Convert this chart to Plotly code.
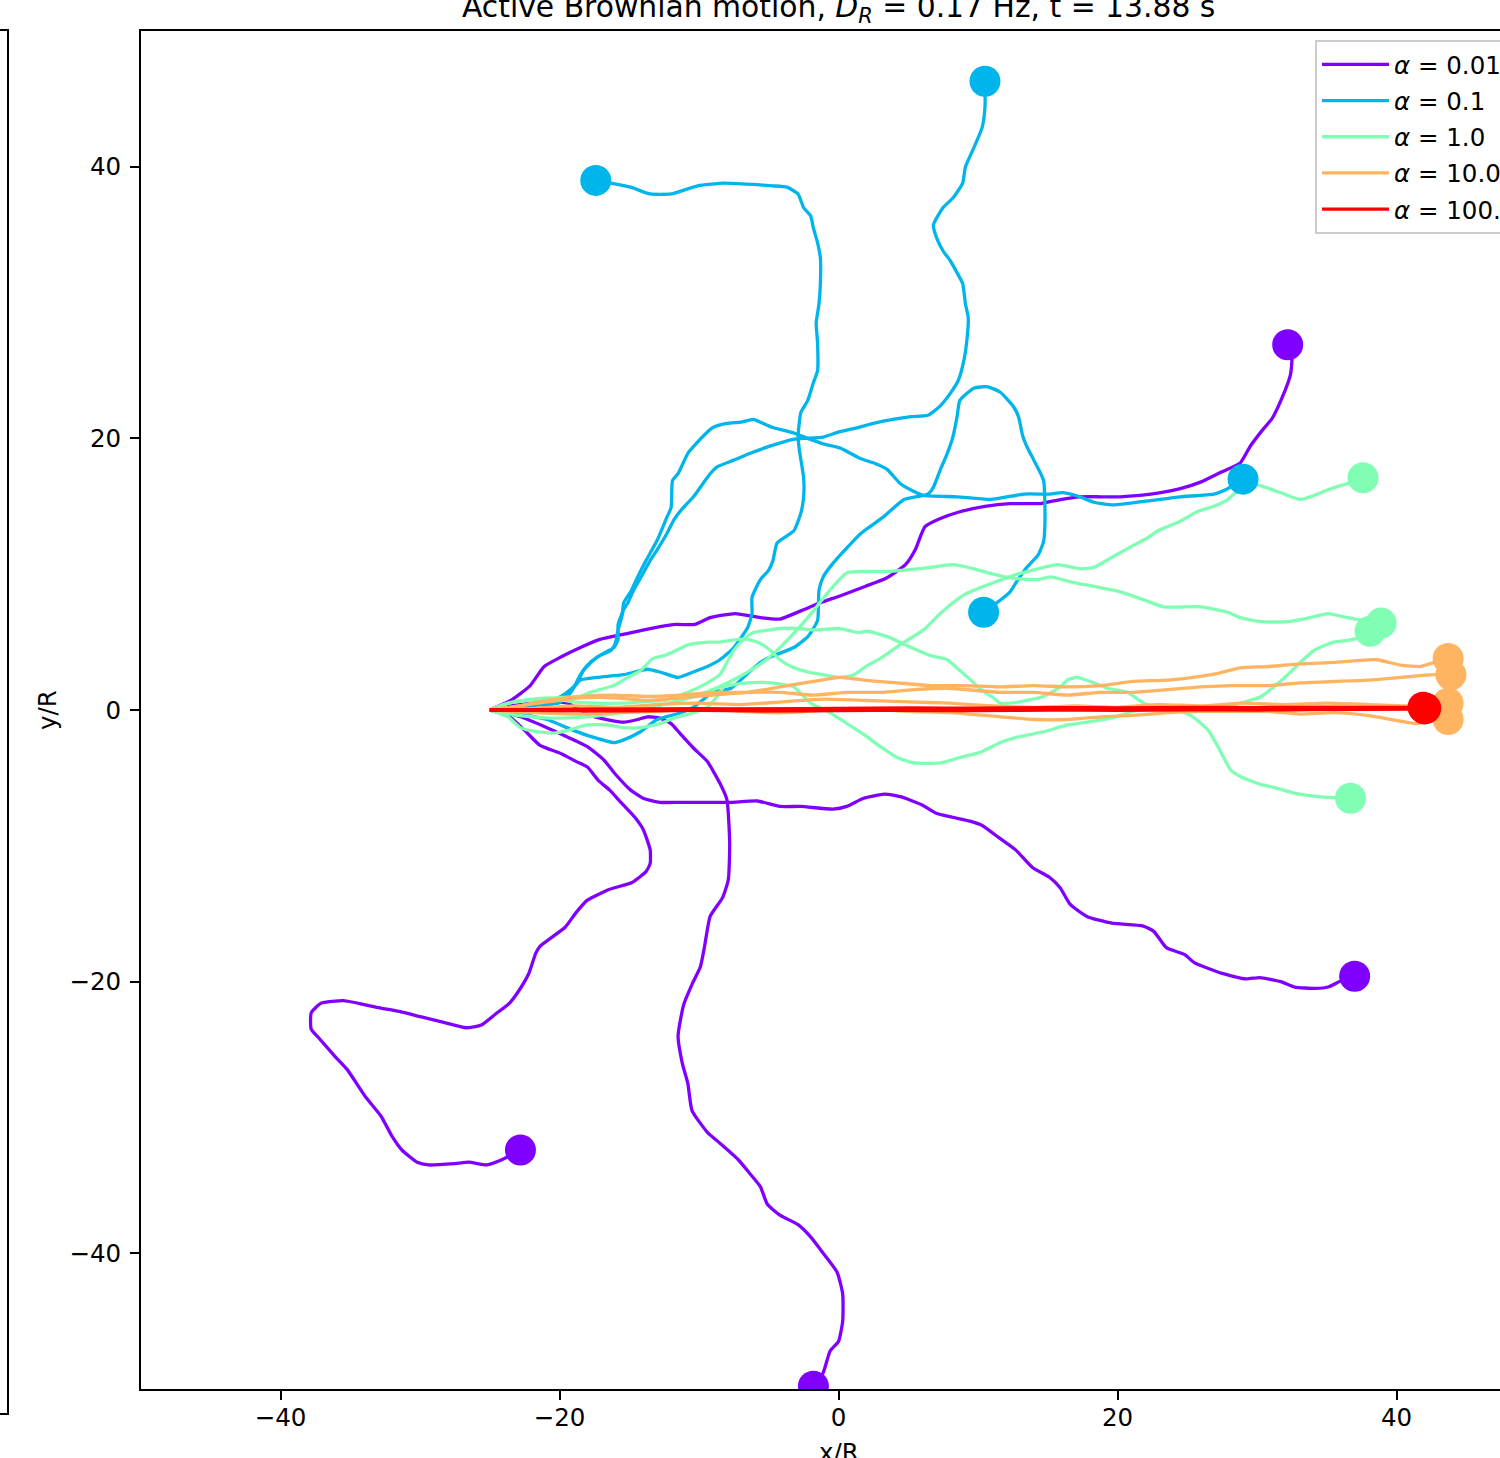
import plotly.graph_objects as go

# ---------------- data (x/R, y/R) ----------------
# alpha = 0.01
x_a001_1 = [-25.0,-23.5,-22.1,-21.1,-19.9,-18.5,-17.1,-15.3,-13.5,-11.7,-10.3,-9.2,-7.4,-5.6,-4.2,-2.7,-1.3,0.1,1.9,3.4,4.8,5.5,6.2,7.3,8.7,10.5,12.3,14.5,15.9,17.3,18.8,20.2,21.6,23.1,24.5,26.0,27.4,28.8,29.5,30.3,31.1,31.8,32.4,32.5,32.2]
y_a001_1 = [0.0,0.7,1.8,3.2,3.9,4.6,5.2,5.6,6.0,6.3,6.3,6.8,7.1,6.8,6.7,7.3,7.9,8.4,9.1,9.7,10.7,11.8,13.5,14.1,14.6,15.0,15.2,15.2,15.5,15.7,15.7,15.7,15.8,16.0,16.3,16.8,17.5,18.2,19.4,20.5,21.5,23.0,24.7,25.9,26.9]
x_a001_2 = [-25.0,-23.9,-22.8,-20.9,-19.4,-18.0,-16.8,-16.1,-14.9,-14.0,-12.8,-11.3,-9.0,-7.7,-5.8,-4.2,-2.7,-0.4,0.6,1.8,3.3,4.5,6.0,7.0,9.5,10.3,11.5,12.7,13.9,15.1,15.9,16.6,17.8,19.6,21.8,22.6,23.5,24.8,25.5,27.5,29.2,30.2,31.7,32.7,34.2,35.1,36.1,37.0]
y_a001_2 = [0.0,-0.2,-0.5,-1.3,-2.0,-2.7,-3.7,-4.6,-5.9,-6.5,-6.8,-6.8,-6.8,-6.8,-6.7,-7.1,-7.1,-7.3,-7.1,-6.5,-6.2,-6.4,-7.0,-7.6,-8.2,-8.5,-9.4,-10.3,-11.6,-12.3,-13.1,-14.3,-15.2,-15.7,-15.9,-16.3,-17.5,-18.0,-18.6,-19.4,-19.8,-19.7,-20.0,-20.4,-20.5,-20.4,-19.9,-19.6]
x_a001_3 = [-25.0,-23.5,-22.1,-20.9,-19.4,-17.8,-16.6,-15.4,-14.4,-13.7,-12.8,-12.0,-11.3,-10.4,-9.4,-8.5,-8.0,-7.8,-7.9,-8.3,-9.2,-9.6,-9.9,-10.5,-11.1,-11.5,-11.2,-10.8,-10.5,-9.4,-8.5,-7.2,-6.3,-5.6,-5.1,-4.2,-2.9,-2.0,-1.1,-0.1,0.3,0.3,0.0,-0.6,-1.1,-1.8]
y_a001_3 = [0.0,0.3,0.5,0.6,0.5,-0.4,-0.7,-0.9,-0.7,-0.5,-0.6,-1.0,-1.8,-2.8,-3.8,-5.4,-6.6,-9.8,-12.5,-13.8,-15.2,-17.4,-18.9,-20.2,-21.7,-24.0,-26.0,-27.5,-29.5,-31.1,-31.9,-33.1,-34.2,-35.1,-36.4,-37.2,-37.9,-38.8,-40.0,-41.4,-43.0,-45.0,-46.5,-47.2,-48.8,-49.8]
x_a001_4 = [-25.0,-23.6,-22.5,-21.4,-19.9,-18.8,-18.0,-17.2,-16.4,-15.6,-14.6,-14.0,-13.5,-13.5,-13.8,-14.8,-16.4,-18.0,-18.8,-19.6,-21.4,-21.7,-22.2,-23.0,-23.6,-24.6,-25.6,-26.7,-28.3,-29.9,-31.5,-33.1,-34.4,-35.5,-37.1,-37.8,-37.8,-37.3,-36.1,-35.2,-33.9,-32.8,-32.0,-31.3,-30.2,-29.4,-27.5,-26.5,-25.2,-24.1,-22.8]
y_a001_4 = [0.0,-0.5,-1.5,-2.6,-3.2,-3.8,-4.2,-5.2,-5.9,-6.8,-7.9,-8.8,-10.3,-11.3,-11.9,-12.7,-13.2,-14.0,-14.9,-16.0,-17.4,-17.9,-19.4,-20.8,-21.6,-22.4,-23.2,-23.4,-23.0,-22.6,-22.2,-21.9,-21.6,-21.4,-21.6,-22.3,-23.5,-24.1,-25.5,-26.5,-28.5,-29.9,-31.4,-32.4,-33.3,-33.5,-33.4,-33.3,-33.5,-33.1,-32.4]

# alpha = 0.1
x_a01_1 = [-25.0,-23.3,-20.9,-19.9,-19.2,-18.5,-17.3,-15.4,-13.7,-12.8,-11.5,-10.4,-9.4,-8.5,-7.5,-6.5,-6.2,-6.2,-5.6,-5.0,-4.7,-4.4,-3.2,-2.7,-2.5,-2.5,-2.8,-2.9,-2.7,-2.2,-1.8,-1.5,-1.5,-1.6,-1.4,-1.3,-1.3,-1.5,-1.8,-2.0,-2.5,-2.9,-3.7,-4.7,-6.1,-8.2,-10.1,-12.0,-13.5,-14.9,-16.3,-17.4]
y_a01_1 = [0.0,0.2,0.5,1.0,1.5,2.2,2.4,2.6,3.0,2.8,2.4,2.8,3.2,3.7,4.6,6.1,7.1,8.3,9.6,10.3,11.0,12.3,13.2,14.5,15.7,17.1,19.1,20.1,21.9,22.8,24.1,25.0,27.0,28.5,29.9,31.4,33.3,34.4,35.5,36.4,37.0,38.0,38.5,38.6,38.7,38.8,38.6,38.0,38.0,38.5,38.8,39.0]
x_a01_2 = [-25.0,-23.5,-21.4,-20.1,-19.4,-19.0,-18.5,-17.8,-16.8,-16.1,-15.8,-15.8,-15.4,-15.1,-14.7,-14.2,-13.5,-13.0,-12.3,-11.8,-11.3,-10.4,-9.7,-9.2,-8.7,-7.5,-6.1,-4.7,-3.4,-2.5,-1.1,0.1,1.4,2.5,3.9,5.2,6.4,7.2,8.0,8.6,9.0,9.2,9.3,9.1,8.9,8.5,8.0,7.5,7.1,6.8,7.5,8.2,8.9,9.1,9.7,10.3,10.5,10.5]
y_a01_2 = [0.0,0.1,0.4,0.5,1.0,1.6,2.6,3.5,4.2,4.6,5.2,6.3,7.4,7.9,8.8,9.7,11.0,11.8,13.0,14.0,14.7,15.7,16.7,17.4,17.9,18.4,19.0,19.5,19.9,20.0,20.1,20.5,20.8,21.1,21.4,21.6,21.7,22.3,23.3,24.3,25.8,27.2,28.9,29.9,31.4,32.2,33.1,33.8,34.6,35.7,37.0,37.7,38.8,40.0,41.4,42.9,44.4,46.3]
x_a01_3 = [-25.0,-22.8,-21.0,-20.1,-19.4,-18.7,-18.3,-17.3,-16.3,-16.0,-15.8,-15.5,-15.4,-14.9,-14.4,-13.8,-13.0,-12.3,-12.0,-11.9,-11.5,-10.8,-10.4,-9.0,-8.0,-7.0,-6.1,-5.6,-4.7,-3.2,-2.2,-1.1,0.1,1.6,2.5,3.5,4.4,5.2,6.1,8.5,10.9,13.3,15.0,16.1,17.3,18.3,19.7,22.2,24.5,26.9,27.9,29.0]
y_a01_3 = [0.0,0.0,0.2,0.7,1.3,2.0,2.9,3.9,4.4,4.9,5.9,7.0,7.9,8.7,9.8,11.0,12.5,14.2,14.9,16.9,17.4,18.9,19.4,20.8,21.1,21.2,21.4,21.2,20.8,20.4,20.0,19.6,19.3,18.5,18.2,17.7,16.7,16.2,15.8,15.7,15.5,15.9,15.9,16.0,15.7,15.3,15.1,15.4,15.7,15.9,16.3,17.0]
x_a01_4 = [-25.0,-23.3,-20.9,-19.0,-17.6,-16.1,-15.4,-14.2,-13.0,-11.3,-10.4,-9.0,-7.7,-6.5,-5.6,-4.9,-3.2,-2.2,-1.5,-1.4,-1.1,-0.4,1.6,3.2,4.7,6.4,6.8,7.3,7.8,8.2,8.5,8.7,9.7,10.7,11.6,12.5,12.9,13.2,13.5,14.0,14.7,14.8,14.7,14.3,13.5,12.8,12.3,11.1,10.4]
y_a01_4 = [0.0,-0.2,-0.7,-1.5,-2.0,-2.4,-2.2,-1.6,-0.7,-0.2,0.2,1.3,1.6,2.7,3.5,3.9,4.6,5.4,6.6,8.8,9.8,10.8,13.0,14.2,15.5,15.9,16.4,17.7,18.9,20.1,21.6,22.8,23.7,23.8,23.4,22.4,21.6,20.2,19.4,18.4,16.9,13.9,12.4,11.4,10.5,9.5,8.7,7.7,7.2]

# alpha = 1.0
x_a1_1 = [-25.0,-23.7,-22.1,-20.4,-18.5,-17.8,-17.1,-16.1,-15.1,-14.2,-13.3,-12.5,-11.8,-10.8,-9.4,-8.5,-7.2,-6.5,-5.6,-4.9,-4.2,-3.4,-2.2,-1.1,0.1,1.1,2.1,3.0,4.4,6.1,7.3,8.2,9.2,10.9,12.5,14.3,15.7,17.3,18.3,19.7,21.1,22.2,22.9,24.5,25.7,26.9,27.9,28.8,29.5,30.0,31.7,33.1,34.1,35.3,36.9,37.6]
y_a1_1 = [0.0,0.5,0.7,0.9,1.0,1.3,1.5,1.8,2.4,2.9,3.8,4.0,4.3,4.8,5.0,5.0,5.2,5.2,4.9,4.4,3.7,3.2,2.8,2.6,2.4,2.6,3.3,3.8,4.8,5.9,7.1,7.9,8.6,9.3,9.9,10.4,10.7,10.4,10.5,11.3,12.1,12.7,13.2,13.9,14.6,15.0,15.5,16.3,16.6,16.6,16.0,15.5,15.8,16.3,16.8,17.1]
x_a1_2 = [-25.0,-23.0,-20.5,-18.0,-15.5,-13.0,-11.0,-9.0,-7.0,-5.3,-4.0,-2.8,-1.8,-0.8,0.6,2.1,3.5,4.7,6.6,8.2,9.7,11.1,12.5,14.3,15.2,16.8,18.3,20.2,21.9,23.3,26.0,27.9,28.8,30.3,32.2,33.8,35.1,36.5,37.6,38.9]
y_a1_2 = [0.0,-0.4,-0.6,-0.5,-0.2,0.3,0.8,1.5,2.5,3.6,4.8,6.1,7.3,8.6,10.1,10.2,10.2,10.3,10.5,10.7,10.4,10.0,9.7,9.6,9.8,9.4,9.1,8.7,8.1,7.6,7.6,7.2,6.8,6.5,6.5,6.8,7.1,6.8,6.6,6.4]
x_a1_3 = [-25.0,-23.7,-22.8,-21.6,-20.4,-19.4,-18.0,-16.6,-15.4,-14.2,-12.8,-11.8,-10.4,-9.4,-8.7,-8.2,-6.5,-4.9,-3.2,-2.0,-0.6,0.6,1.8,3.0,4.2,5.4,7.3,8.7,10.2,11.6,12.8,14.7,16.4,17.8,19.5,21.1,22.2,23.6,25.0,27.2,28.8,30.3,31.2,32.2,33.1,34.1,35.5,36.9,38.1]
y_a1_3 = [0.0,-0.5,-1.3,-1.6,-1.7,-1.5,-1.1,-1.1,-1.3,-1.3,-1.0,-0.6,-0.2,0.2,1.0,1.7,2.0,2.0,1.7,0.5,-0.2,-1.0,-1.8,-2.7,-3.5,-3.9,-3.9,-3.5,-3.1,-2.4,-2.0,-1.6,-1.1,-0.9,-0.6,-0.1,0.1,0.2,0.2,0.2,0.5,1.0,1.7,2.6,3.5,4.4,5.0,5.2,5.8]
x_a1_4 = [-25.0,-23.3,-20.9,-19.0,-17.3,-15.6,-14.2,-12.5,-10.8,-9.4,-8.5,-8.0,-7.5,-6.8,-6.1,-4.9,-4.2,-2.9,-1.8,0.1,1.4,2.1,3.5,5.2,6.6,7.8,8.7,9.5,10.2,11.1,11.6,13.0,14.7,15.9,16.4,17.1,18.3,19.3,20.7,21.9,22.9,24.3,25.4,26.5,27.2,28.1,28.8,30.3,31.2,32.6,34.6,36.7]
y_a1_4 = [0.0,0.6,0.9,0.6,0.5,0.5,0.6,0.7,1.3,2.0,2.6,3.5,4.4,5.2,5.7,5.9,6.0,6.0,5.9,6.0,5.7,5.8,5.4,4.6,4.0,3.7,2.9,2.2,1.5,0.9,0.5,0.6,1.0,1.7,2.2,2.4,2.0,1.6,1.3,0.5,0.2,0.0,-0.5,-1.5,-2.7,-4.4,-4.9,-5.5,-5.7,-6.1,-6.4,-6.5]

# alpha = 10.0
x_a10_1 = [-25.0,-23.3,-20.9,-18.5,-16.1,-13.7,-11.3,-9.0,-6.5,-4.2,-1.8,0.1,1.8,4.2,6.6,9.0,11.6,14.0,16.4,18.8,21.1,23.6,25.4,27.2,28.8,30.8,33.1,35.5,38.6,40.3,41.7,42.7,43.7]
y_a10_1 = [0.0,0.2,0.7,1.0,1.1,1.0,1.1,1.3,1.3,1.7,2.1,2.4,2.2,2.0,1.8,1.8,1.7,1.8,1.7,1.8,2.1,2.2,2.4,2.7,3.1,3.2,3.4,3.5,3.7,3.3,3.2,3.5,3.8]
x_a10_2 = [-25.0,-20.9,-18.5,-16.1,-13.7,-11.3,-9.0,-6.5,-4.2,-1.8,0.6,3.0,5.4,7.8,11.6,14.0,16.4,18.8,21.1,23.6,26.0,28.3,30.8,33.1,35.5,37.9,40.3,42.7,43.9]
y_a10_2 = [0.0,0.6,0.9,0.9,0.7,0.9,1.1,1.3,1.3,1.1,1.3,1.3,1.5,1.6,1.3,1.3,1.1,1.3,1.3,1.5,1.7,1.8,1.8,2.0,2.1,2.2,2.4,2.6,2.6]
x_a10_3 = [-25.0,-22.0,-19.0,-16.0,-13.0,-10.0,-7.0,-4.0,-1.0,2.0,5.0,8.0,11.0,14.0,17.0,20.0,23.0,26.0,29.0,32.0,35.0,38.0,41.0,43.7]
y_a10_3 = [0.0,0.1,0.3,0.2,0.4,0.5,0.4,0.6,0.8,0.7,0.6,0.5,0.3,0.2,0.3,0.2,0.4,0.3,0.5,0.4,0.5,0.4,0.3,0.5]
x_a10_4 = [-25.0,-22.0,-19.0,-16.0,-13.0,-10.0,-7.0,-4.0,-1.0,2.0,5.0,8.0,11.6,14.0,16.4,18.8,21.1,23.6,26.0,28.3,30.8,33.1,35.5,37.9,39.1,41.5,42.7,43.7]
y_a10_4 = [0.0,-0.2,-0.3,-0.2,-0.1,0.1,-0.1,-0.2,0.0,0.1,-0.1,-0.2,-0.5,-0.7,-0.7,-0.5,-0.4,-0.2,-0.1,-0.1,-0.1,-0.3,-0.2,-0.4,-0.6,-1.0,-0.7,-0.7]

# alpha = 100.0
x_a100_1 = [-25.0,-20.0,-15.0,-10.0,-5.0,0.0,5.0,10.0,15.0,20.0,25.0,30.0,35.0,40.0,42.0]
y_a100_1 = [0.0,0.02,0.05,0.03,0.06,0.08,0.05,0.1,0.12,0.1,0.13,0.15,0.12,0.14,0.15]
x_a100_2 = [-25.0,-20.0,-15.0,-10.0,-5.0,0.0,5.0,10.0,15.0,20.0,25.0,30.0,35.0,40.0,42.1]
y_a100_2 = [0.0,-0.03,-0.02,0.0,-0.04,0.0,0.03,0.01,0.05,0.06,0.04,0.08,0.1,0.09,0.12]
x_a100_3 = [-25.0,-20.0,-15.0,-10.0,-5.0,0.0,5.0,10.0,15.0,20.0,25.0,30.0,35.0,40.0,41.9]
y_a100_3 = [0.0,0.04,0.07,0.1,0.08,0.12,0.15,0.13,0.18,0.16,0.2,0.18,0.21,0.19,0.2]
x_a100_4 = [-25.0,-20.0,-15.0,-10.0,-5.0,0.0,5.0,10.0,15.0,20.0,25.0,30.0,35.0,40.0,42.0]
y_a100_4 = [0.0,-0.05,-0.06,-0.03,-0.07,-0.04,-0.02,-0.05,0.0,-0.02,0.02,0.0,0.04,0.06,0.08]

alpha_labels = ["0.01", "0.1", "1.0", "10.0", "100.0"]
colors = ["#8000ff", "#00b5eb", "#80ffb4", "#ffb462", "#ff0000"]
tick_vals = [-40, -20, 0, 20, 40]

groups = [
    [(x_a001_1, y_a001_1), (x_a001_2, y_a001_2), (x_a001_3, y_a001_3), (x_a001_4, y_a001_4)],
    [(x_a01_1, y_a01_1), (x_a01_2, y_a01_2), (x_a01_3, y_a01_3), (x_a01_4, y_a01_4)],
    [(x_a1_1, y_a1_1), (x_a1_2, y_a1_2), (x_a1_3, y_a1_3), (x_a1_4, y_a1_4)],
    [(x_a10_1, y_a10_1), (x_a10_2, y_a10_2), (x_a10_3, y_a10_3), (x_a10_4, y_a10_4)],
    [(x_a100_1, y_a100_1), (x_a100_2, y_a100_2), (x_a100_3, y_a100_3), (x_a100_4, y_a100_4)],
]

FONT = "DejaVu Sans"
W, H = 1500, 1458
L, T = 141, 31          # plot-area left / top in px
PB = 1389               # plot-area bottom in px
PW, PH = W - L, PB - T

fig = go.Figure()

# trajectories (one trace per alpha, trajectories separated by gaps)
for lab, col, trajs in zip(alpha_labels, colors, groups):
    xs, ys = [], []
    for tx, ty in trajs:
        xs += list(tx) + [None]
        ys += list(ty) + [None]
    fig.add_trace(go.Scatter(
        x=xs, y=ys, mode="lines", connectgaps=False,
        line=dict(color=col, width=3.3, shape="spline", smoothing=0.5),
        name=f"<i>α</i> = {lab}",
        legendgroup=lab, showlegend=True, hoverinfo="skip"))

# end-point markers
for lab, col, trajs in zip(alpha_labels, colors, groups):
    fig.add_trace(go.Scatter(
        x=[tx[-1] for tx, ty in trajs], y=[ty[-1] for tx, ty in trajs],
        mode="markers", marker=dict(color=col, size=31, line=dict(width=0)),
        showlegend=False, legendgroup=lab, hoverinfo="skip"))

def px_x(p):
    return (p - L) / PW

def px_y(p):
    return (PB - p) / PH

xmax = -50 + (W - L) * (100.0 / (1535.5 - 140.5))

axis_common = dict(
    showline=True, linecolor="black", linewidth=2, ticks="outside",
    ticklen=9, tickwidth=2, tickcolor="black", showgrid=False, zeroline=False,
    tickvals=tick_vals, tickfont=dict(family=FONT, size=24.5, color="black"),
)

fig.update_layout(
    template="none",
    width=W, height=H,
    margin=dict(l=L, r=0, t=T, b=H - PB, autoexpand=False, pad=0),
    paper_bgcolor="white", plot_bgcolor="white",
    font=dict(family=FONT, size=24.5, color="black"),
    xaxis=dict(range=[-50, xmax], mirror=True, ticklabelstandoff=-3, **axis_common),
    yaxis=dict(range=[-50, 50], mirror=False, ticklabelstandoff=4, **axis_common),
    legend=dict(
        x=px_x(1315), y=px_y(40), xanchor="left", yanchor="top",
        bgcolor="rgba(255,255,255,0.8)", bordercolor="#cccccc", borderwidth=2,
        font=dict(family=FONT, size=24.5, color="black"),
        tracegroupgap=1.3, itemwidth=67,
    ),
    showlegend=True,
)

# title (partly cut by the top edge, as in the reference)
fig.add_annotation(
    text="Active Brownian motion, <i>D</i><sub><i>R</i></sub> = 0.17 Hz, t = 13.88 s",
    xref="x", x=0, yref="paper", y=px_y(8), yanchor="middle", xanchor="center",
    showarrow=False, font=dict(family=FONT, size=29.8, color="black"))
# axis labels
fig.add_annotation(text="y/R", xref="paper", x=px_x(47), yref="paper", y=0.5,
                   textangle=-90, showarrow=False, xanchor="center", yanchor="middle",
                   font=dict(family=FONT, size=24.5, color="black"))
fig.add_annotation(text="x/R", xref="x", x=0, yref="paper", y=px_y(1452),
                   showarrow=False, xanchor="center", yanchor="middle",
                   font=dict(family=FONT, size=24.5, color="black"))

# edge of the neighbouring panel at the far left
fig.add_shape(type="rect", xref="paper", yref="paper",
              x0=px_x(-20), x1=px_x(8), y0=px_y(1414), y1=px_y(30),
              line=dict(color="black", width=2), fillcolor="rgba(0,0,0,0)", layer="above")

fig.write_html("out.html", config={"displayModeBar": False},
               post_script="document.body.style.margin='0';document.body.style.overflow='hidden';")
